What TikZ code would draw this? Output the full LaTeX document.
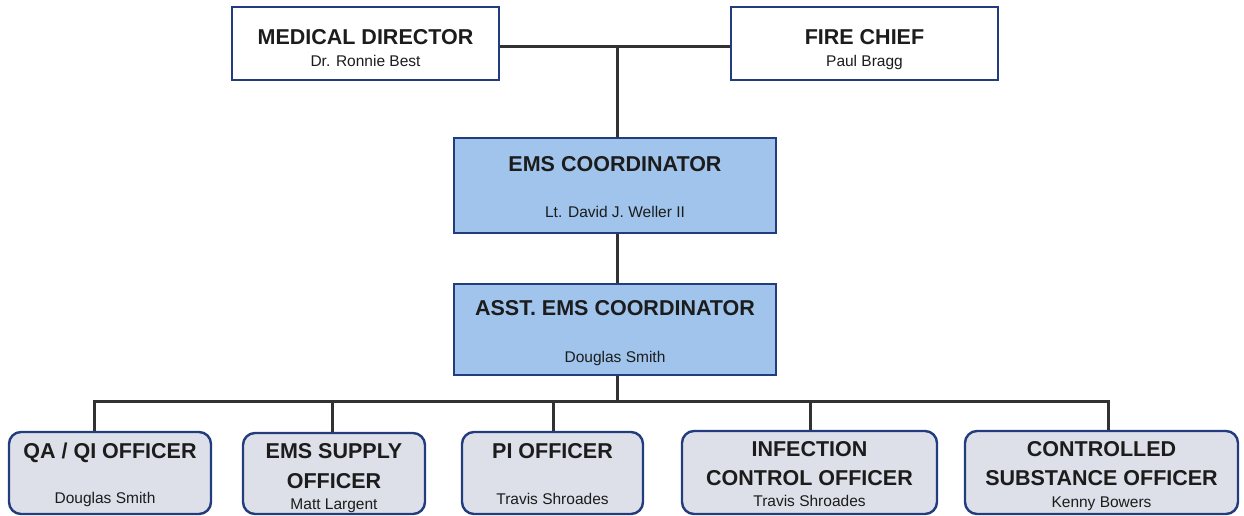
\documentclass[tikz,border=0pt]{standalone}
\usepackage{fontspec}
\setmainfont{Liberation Sans}
\definecolor{navy}{RGB}{35,60,125}
\definecolor{bluefill}{RGB}{160,196,236}
\definecolor{grayfill}{RGB}{221,224,233}
\definecolor{linec}{RGB}{50,50,50}
\definecolor{txt}{RGB}{28,28,28}
\tikzset{
  boxbase/.style={draw=navy, line width=2.4pt, inner sep=0pt},
  whitebox/.style={boxbase, fill=white},
  bluebox/.style={boxbase, fill=bluefill},
  graybox/.style={boxbase, fill=grayfill, rounded corners=12pt},
  ttl/.style={anchor=base, inner sep=0pt, text=txt, font=\fontsize{21.5}{26}\selectfont\bfseries},
  nm/.style={anchor=base, inner sep=0pt, text=txt, font=\fontsize{15.5}{19}\selectfont},
  conn/.style={draw=linec, line width=3pt}
}
\begin{document}
\begin{tikzpicture}[x=1pt,y=-1pt]
\useasboundingbox (0,0) rectangle (1244,516);
% boxes
\node[whitebox, minimum width=267pt, minimum height=73pt] (md) at (365.5,43.5) {};
\node[whitebox, minimum width=267pt, minimum height=73pt] (fc) at (864.5,43.5) {};
\node[bluebox, minimum width=322pt, minimum height=95pt] (ems) at (615,185.5) {};
\node[bluebox, minimum width=322pt, minimum height=91pt] (asst) at (615,329.5) {};
\node[graybox, minimum width=202pt, minimum height=82pt] (qa) at (110,473) {};
\node[graybox, minimum width=182pt, minimum height=81pt] (sup) at (334,473.5) {};
\node[graybox, minimum width=181pt, minimum height=82pt] (pi) at (552.5,473) {};
\node[graybox, minimum width=255pt, minimum height=83pt] (inf) at (809.5,472.5) {};
\node[graybox, minimum width=273pt, minimum height=83pt] (cs) at (1101.5,472.5) {};
% connectors
\coordinate (j1) at (617,47);
\coordinate (b0) at (617,401);
\coordinate (bq) at (94,401);
\coordinate (bs) at (332,401);
\coordinate (bp) at (553,401);
\coordinate (bi) at (810,401);
\coordinate (bc) at (1108,401);
\draw[conn] (md.east |- j1) -- (fc.west |- j1);
\draw[conn] (j1) -- (j1 |- ems.north);
\draw[conn] (ems.south -| j1) -- (asst.north -| j1);
\draw[conn] (asst.south -| b0) -- (b0);
\draw[conn, line cap=rect] (bq) -- (bc);
\draw[conn] (bq) -- (bq |- qa.north);
\draw[conn] (bs) -- (bs |- sup.north);
\draw[conn] (bp) -- (bp |- pi.north);
\draw[conn] (bi) -- (bi |- inf.north);
\draw[conn] (bc) -- (bc |- cs.north);
% texts
\node[ttl] (mdt) at (365.5,45) {MEDICAL DIRECTOR};
\node[nm] (mdn) at (365.5,67) {Dr. Ronnie Best};
\node[ttl] (fct) at (864.5,45) {FIRE CHIEF};
\node[nm] (fcn) at (864.5,67) {Paul Bragg};
\node[ttl] (emst) at (615,171) {EMS COORDINATOR};
\node[nm] (emsn) at (615,217) {Lt. David J. Weller II};
\node[ttl] (asstt) at (615,315) {ASST. EMS COORDINATOR};
\node[nm] (asstn) at (615,362) {Douglas Smith};
\node[ttl] (qat) at (110,458) {QA / QI OFFICER};
\node[nm] (qan) at (105,503) {Douglas Smith};
\node[ttl] (supt1) at (334,458) {EMS SUPPLY};
\node[ttl] (supt2) at (334,488) {OFFICER};
\node[nm] (supn) at (334,509) {Matt Largent};
\node[ttl] (pit) at (552.5,458) {PI OFFICER};
\node[nm] (pin) at (552.5,504) {Travis Shroades};
\node[ttl] (inft1) at (809.5,456) {INFECTION};
\node[ttl] (inft2) at (809.5,485) {CONTROL OFFICER};
\node[nm] (infn) at (809.5,506) {Travis Shroades};
\node[ttl] (cst1) at (1101.5,456) {CONTROLLED};
\node[ttl] (cst2) at (1101.5,485) {SUBSTANCE OFFICER};
\node[nm] (csn) at (1101.5,507) {Kenny Bowers};
\end{tikzpicture}
\end{document}
